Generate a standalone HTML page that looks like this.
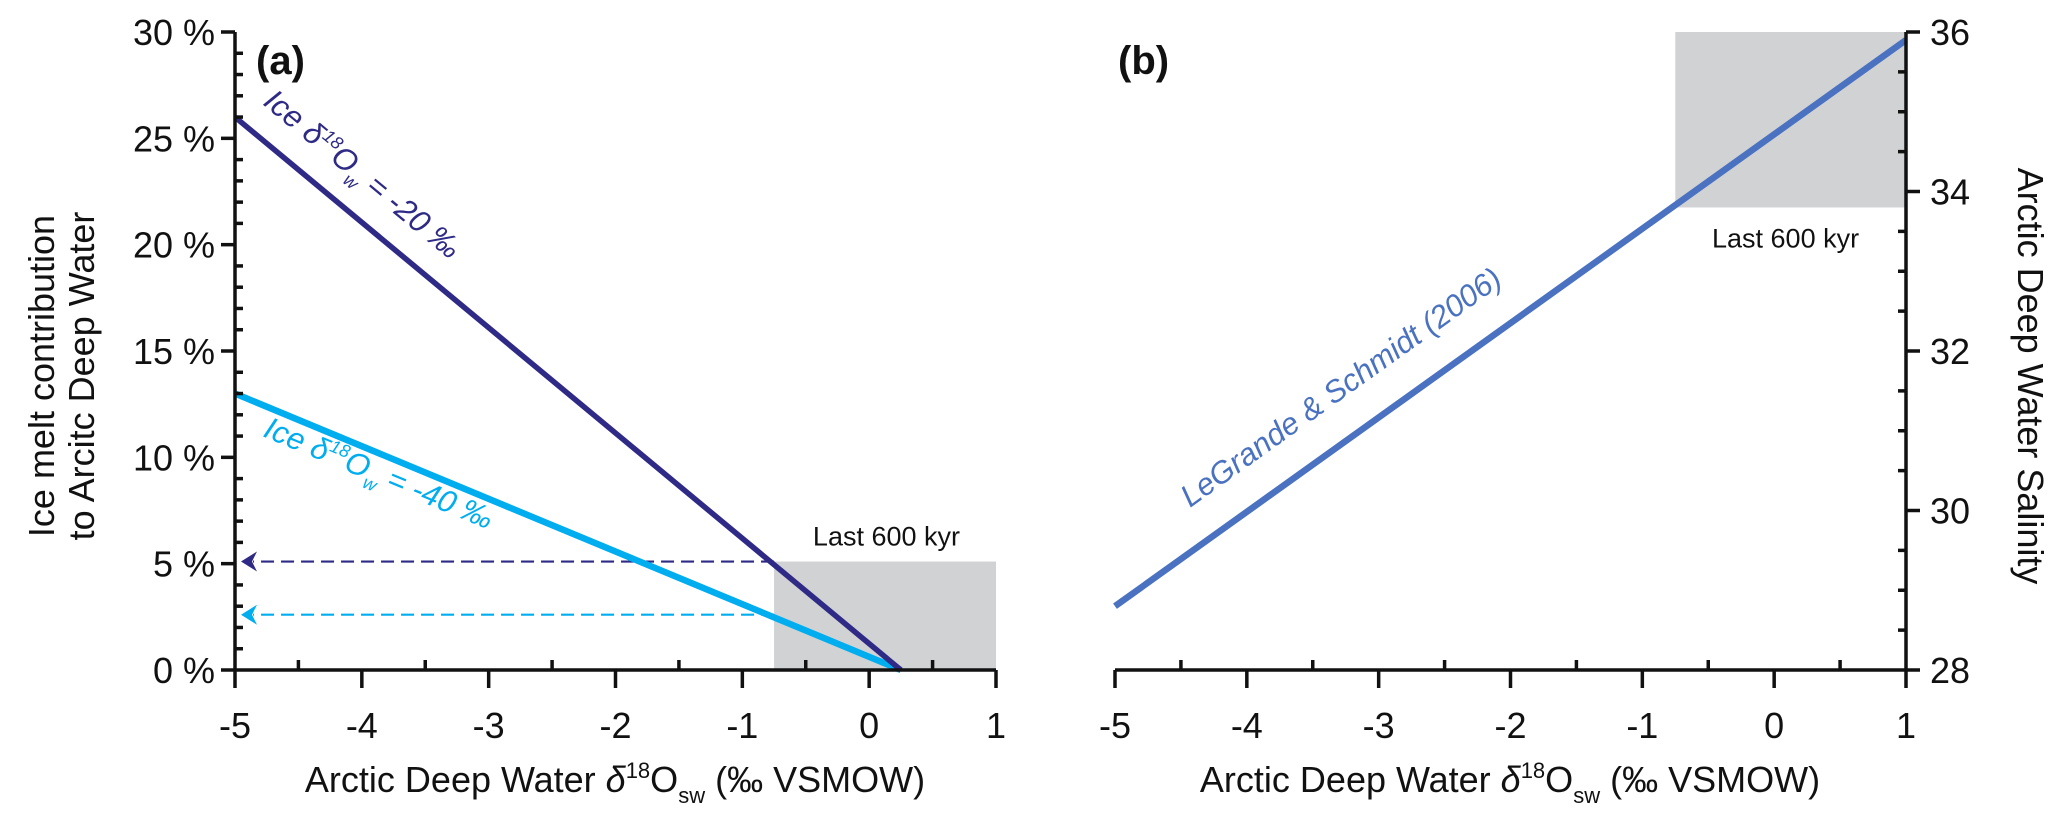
<!DOCTYPE html>
<html><head><meta charset="utf-8"><style>
body{margin:0;background:#fff;}
svg{display:block;font-family:"Liberation Sans",sans-serif;}
</style></head><body>
<svg id="chart" width="2067" height="823" viewBox="0 0 2067 823"></svg>
<script>
const xTicks=[-5,-4,-3,-2,-1,0,1];
const yTicksA=[0,5,10,15,20,25,30];
const yTicksB=[28,30,32,34,36];
const seriesDarkX=[-5,0.25];
const seriesDarkY=[26,0];
const seriesLightX=[-5,0.25];
const seriesLightY=[13,0];
const seriesBX=[-5,1];
const seriesBY=[28.8,35.9];
const boxAX=[-0.75,1];const boxAY=[0,5.1];
const boxBX=[-0.75,1];const boxBY=[33.8,36];
const arrowLevels=[5.1,2.6];

const NS="http://www.w3.org/2000/svg";
const svg=document.getElementById('chart');
function el(t,a,parent){const e=document.createElementNS(NS,t);for(const k in a)e.setAttribute(k,a[k]);(parent||svg).appendChild(e);return e;}
const xa=v=>235+(v+5)*(996-235)/6;
const ya=v=>670-v*(670-32)/30;
const xb=v=>1115+(v+5)*(1906-1115)/6;
const yb=v=>670-(v-28)*(670-32)/8;

let r=el('rect',{x:xa(boxAX[0]),y:ya(boxAY[1]),width:xa(boxAX[1])-xa(boxAX[0]),height:ya(boxAY[0])-ya(boxAY[1]),fill:'#d1d2d4'});

r=el('rect',{x:xb(boxBX[0]),y:yb(boxBY[1]),width:xb(boxBX[1])-xb(boxBX[0]),height:yb(boxBY[0])-yb(boxBY[1]),fill:'#d1d2d4'});


const arrowCols=['#2e2a85','#00aeef'];
arrowLevels.forEach((lv,i)=>{
 const l=el('line',{x1:xa(boxAX[0]),x2:xa(-5)+18,y1:ya(lv),y2:ya(lv),stroke:arrowCols[i],'stroke-width':2.2,'stroke-dasharray':'13,7'});
 
 const x=xa(-5)+6,y=ya(lv);
 const p=el('path',{d:`M${x},${y} L${x+16},${y-10} L${x+11},${y} L${x+16},${y+10} Z`,fill:arrowCols[i]});
 
});

let s=el('line',{x1:xa(seriesLightX[0]),y1:ya(seriesLightY[0]),x2:xa(seriesLightX[1]),y2:ya(seriesLightY[1]),stroke:'#00aeef','stroke-width':6.5});

s=el('line',{x1:xa(seriesDarkX[0]),y1:ya(seriesDarkY[0]),x2:xa(seriesDarkX[1]),y2:ya(seriesDarkY[1]),stroke:'#2e2a85','stroke-width':5.5});

s=el('line',{x1:xb(seriesBX[0]),y1:yb(seriesBY[0]),x2:xb(seriesBX[1]),y2:yb(seriesBY[1]),stroke:'#4a72c0','stroke-width':6.5});


const ax=el('g',{stroke:'#111','stroke-width':3.5,fill:'none'});

el('line',{x1:xa(-5),y1:ya(0),x2:xa(-5),y2:ya(30)},ax);
el('line',{x1:xa(-5),y1:ya(0),x2:xa(1),y2:ya(0)},ax);
for(let v=0;v<=30;v++){el('line',{x1:xa(-5)-(v%5==0?14:0),x2:xa(-5)+(v%5==0?0:8),y1:ya(v),y2:ya(v)},ax);}
for(let v=-5;v<=1.001;v+=0.5){const maj=Math.abs(v-Math.round(v))<0.01;el('line',{x1:xa(v),x2:xa(v),y1:ya(0)-(maj?0:10),y2:ya(0)+(maj?18:0)},ax);}
const bx=el('g',{stroke:'#111','stroke-width':3.5,fill:'none'});

el('line',{x1:xb(1),y1:yb(28),x2:xb(1),y2:yb(36)},bx);
el('line',{x1:xb(-5),y1:yb(28),x2:xb(1),y2:yb(28)},bx);
for(let v=28;v<=36.001;v+=0.5){const maj=Math.abs(v/2-Math.round(v/2))<0.01;el('line',{x1:xb(1)-(maj?0:8),x2:xb(1)+(maj?14:0),y1:yb(v),y2:yb(v)},bx);}
for(let v=-5;v<=1.001;v+=0.5){const maj=Math.abs(v-Math.round(v))<0.01;el('line',{x1:xb(v),x2:xb(v),y1:yb(28)-(maj?0:10),y2:yb(28)+(maj?18:0)},bx);}

function txt(str,a,name){const t=el('text',Object.assign({fill:'#111','font-size':36},a));t.textContent=str;return t;}
xTicks.forEach(v=>{txt(String(v),{x:xa(v),y:ya(0)+68,'text-anchor':'middle'},'x-tick-a');txt(String(v),{x:xb(v),y:yb(28)+68,'text-anchor':'middle'},'x-tick-b');});
yTicksA.forEach(v=>txt(v+' %',{x:xa(-5)-20,y:ya(v)+13,'text-anchor':'end'},'y-tick-a'));
yTicksB.forEach(v=>txt(String(v),{x:xb(1)+24,y:yb(v)+13},'y-tick-b'));

txt('(a)',{x:256,y:74,'font-size':40,'font-weight':'bold'},'panel-label-a');
txt('(b)',{x:1118,y:74,'font-size':40,'font-weight':'bold'},'panel-label-b');
txt('Last 600 kyr',{x:960,y:ya(5.1)-16,'font-size':27,'text-anchor':'end'},'last-600-kyr-label-a');
txt('Last 600 kyr',{x:1712,y:yb(33.8)+40,'font-size':27},'last-600-kyr-label-b');

let t=txt('',{x:615,y:792,'text-anchor':'middle','font-size':36},'x-axis-title-a');
t.innerHTML='Arctic Deep Water <tspan font-style="italic">δ</tspan><tspan font-size="22" dy="-14">18</tspan><tspan dy="14">O</tspan><tspan font-size="22" dy="11">sw</tspan><tspan dy="-11"> (‰ VSMOW)</tspan>';
t=txt('',{x:1510,y:792,'text-anchor':'middle','font-size':36},'x-axis-title-b');
t.innerHTML='Arctic Deep Water <tspan font-style="italic">δ</tspan><tspan font-size="22" dy="-14">18</tspan><tspan dy="14">O</tspan><tspan font-size="22" dy="11">sw</tspan><tspan dy="-11"> (‰ VSMOW)</tspan>';
txt('Ice melt contribution',{x:0,y:0,'text-anchor':'middle','font-size':36,transform:'translate(54,376) rotate(-90)'},'y-axis-title-a-line1');
txt('to Arcitc Deep Water',{x:0,y:0,'text-anchor':'middle','font-size':36,transform:'translate(94,376) rotate(-90)'},'y-axis-title-a-line2');
txt('Arctic Deep Water Salinity',{x:0,y:0,'text-anchor':'middle','font-size':36,transform:'translate(2018,376) rotate(90)'},'y-axis-title-b');

t=txt('',{x:0,y:0,fill:'#2e2a85','font-size':31,'font-style':'italic',transform:'translate(262,104) rotate(39.7)'},'ice-minus-20-label');
t.innerHTML='Ice δ<tspan font-size="18" dy="-12">18</tspan><tspan dy="12">O</tspan><tspan font-size="18" dy="9">w</tspan><tspan dy="-9"> = -20 ‰</tspan>';
t=txt('',{x:0,y:0,fill:'#00aeef','font-size':31,'font-style':'italic',transform:'translate(262,436) rotate(22.5)'},'ice-minus-40-label');
t.innerHTML='Ice δ<tspan font-size="18" dy="-12">18</tspan><tspan dy="12">O</tspan><tspan font-size="18" dy="9">w</tspan><tspan dy="-9"> = -40 ‰</tspan>';
txt('LeGrande & Schmidt (2006)',{x:0,y:0,fill:'#4a72c0','font-size':31,'font-style':'italic',transform:'translate(1190,508) rotate(-35.6)'},'legrande-schmidt-label');
</script>
</body></html>
